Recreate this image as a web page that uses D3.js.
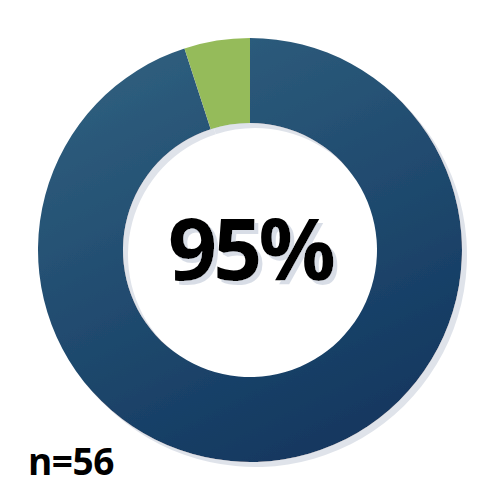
<!DOCTYPE html>
<html>
<head>
<meta charset="utf-8">
<script src="https://cdn.jsdelivr.net/npm/d3@7"></script>
<style>
  body { margin: 0; background: #fff; }
  svg { display: block; }
</style>
</head>
<body>
<svg id="chart" width="500" height="500"></svg>
<script>
// chart data
var categories = ['Yes', 'No']
var shares = [95, 5]
var sliceColors = ['url(#navyGrad)', '#95bb5a']
var centerLabel = '95%'
var sampleLabel = 'n=56'

var w = 500, h = 500
var cx = 250, cy = 250
var outerR = 212, innerR = 127

var svg = d3.select('#chart')

// gradient + shadow filters
var defs = svg.append('defs')
var grad = defs.append('linearGradient')
  .attr('id', 'navyGrad')
  .attr('x1', '20%').attr('y1', '0%')
  .attr('x2', '70%').attr('y2', '100%')
grad.append('stop').attr('offset', '0%').attr('stop-color', '#30607f')
grad.append('stop').attr('offset', '100%').attr('stop-color', '#11365f')

function addShadow(id, dx, dy, color){
  var f = defs.append('filter').attr('id', id)
    .attr('x', '-10%').attr('y', '-10%').attr('width', '130%').attr('height', '130%')
  f.append('feFlood').attr('flood-color', color).attr('result', 'c')
  f.append('feOffset').attr('in', 'SourceAlpha').attr('dx', dx).attr('dy', dy).attr('result', 'o')
  f.append('feComposite').attr('in', 'c').attr('in2', 'o').attr('operator', 'in').attr('result', 's')
  var m = f.append('feMerge')
  m.append('feMergeNode').attr('in', 's')
  m.append('feMergeNode').attr('in', 'SourceGraphic')
}
addShadow('ringShadow', 5, 5, '#dfe3ea')
addShadow('textShadow', 4, 4, '#d8dde6')

var pie = d3.pie()
  .sort(null)
  .value(function(d){return d})

var arc = d3.arc()
  .innerRadius(innerR)
  .outerRadius(outerR)

var g = svg.append('g').attr('transform', 'translate(' + cx + ',' + cy + ')')

g.append('g')
  .attr('filter', 'url(#ringShadow)')
  .selectAll('.slice')
  .data(pie(shares))
  .enter().append('path')
  .attr('class', 'slice')
  .attr('d', arc)
  .style('fill', function(d,i){return sliceColors[i]})

var font = "'Open Sans', 'Noto Sans', sans-serif"
g.append('text')
  .attr('x', 0).attr('y', 30)
  .attr('text-anchor', 'middle')
  .attr('filter', 'url(#textShadow)')
  .style('font-family', font)
  .style('font-weight', 700)
  .style('font-size', '86px')
  .style('letter-spacing', '-4px')
  .style('fill', '#000')
  .text(centerLabel)

svg.append('text')
  .attr('x', 28).attr('y', 475)
  .style('font-family', font)
  .style('font-weight', 700)
  .style('font-size', '37px')
  .style('letter-spacing', '-0.5px')
  .style('fill', '#000')
  .text(sampleLabel)
</script>
</body>
</html>
